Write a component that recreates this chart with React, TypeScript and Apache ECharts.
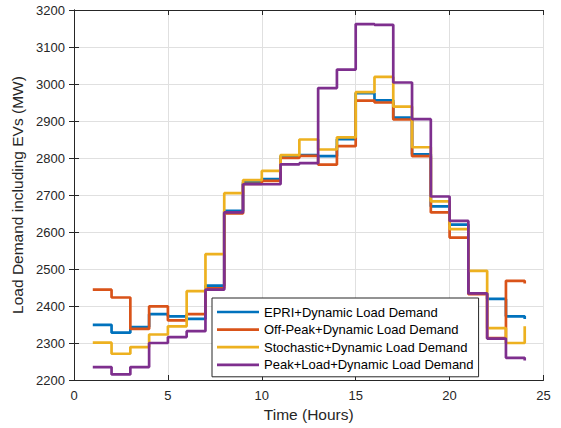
import React, { useEffect, useRef } from "react";
import * as echarts from "echarts";

const hours = [1, 2, 3, 4, 5, 6, 7, 8, 9, 10, 11, 12, 13, 14, 15, 16, 17, 18, 19, 20, 21, 22, 23, 24];

const epri = [2349, 2328, 2343, 2378, 2372, 2365, 2455, 2657, 2734, 2743, 2805, 2808, 2805, 2851, 2975, 2956, 2909, 2810, 2669, 2620, 2434, 2419, 2372, 2365];
const offPeak = [2444, 2423, 2338, 2399, 2361, 2378, 2448, 2650, 2730, 2738, 2800, 2806, 2782, 2832, 2955, 2950, 2904, 2805, 2653, 2585, 2432, 2313, 2468, 2461];
const stochastic = [2301, 2271, 2289, 2323, 2345, 2440, 2540, 2705, 2740, 2765, 2808, 2850, 2823, 2856, 2978, 3019, 2939, 2829, 2683, 2608, 2495, 2340, 2300, 2345];
const peak = [2235, 2215, 2235, 2300, 2316, 2332, 2444, 2653, 2729, 2729, 2783, 2786, 2989, 3039, 3162, 3160, 3004, 2905, 2696, 2630, 2434, 2312, 2260, 2253];

const seriesNames = [
  "EPRI+Dynamic Load Demand",
  "Off-Peak+Dynamic Load Demand",
  "Stochastic+Dynamic Load Demand",
  "Peak+Load+Dynamic Load Demand",
];
const seriesValues = [epri, offPeak, stochastic, peak];
const colors = ["#0072BD", "#D95319", "#EDB120", "#7E2F8E"];

const FONT = "'Liberation Sans', Arial, Helvetica, sans-serif";
const AXIS_COLOR = "#262626";

export default function App() {
  const ref = useRef<HTMLDivElement>(null);

  useEffect(() => {
    document.body.style.margin = "0";
    if (!ref.current) return;
    const chart = echarts.init(ref.current, null, { renderer: "svg" });

    const axisCommon = {
      axisLine: { show: true, lineStyle: { color: AXIS_COLOR, width: 1 } },
      axisTick: { show: true, inside: true, length: 5, lineStyle: { color: AXIS_COLOR } },
    };

    chart.setOption({
      animation: false,
      backgroundColor: "#ffffff",
      textStyle: { fontFamily: FONT },
      grid: { left: 74, right: 17.5, top: 10, bottom: 48, containLabel: false },
      xAxis: [
        {
          type: "value",
          min: 0,
          max: 25,
          interval: 5,
          position: "bottom",
          name: "Time (Hours)",
          nameLocation: "middle",
          nameGap: 26,
          nameTextStyle: { fontSize: 15.5, color: AXIS_COLOR, fontFamily: FONT },
          ...axisCommon,
          axisLabel: { fontSize: 13, color: AXIS_COLOR, margin: 9, fontFamily: FONT },
          splitLine: { show: true, lineStyle: { color: "#e0e0e0", width: 1 } },
        },
        {
          type: "value",
          min: 0,
          max: 25,
          interval: 5,
          position: "top",
          ...axisCommon,
          axisLabel: { show: false },
          splitLine: { show: false },
        },
      ],
      yAxis: [
        {
          type: "value",
          min: 2200,
          max: 3200,
          interval: 100,
          position: "left",
          name: "Load Demand including EVs (MW)",
          nameLocation: "middle",
          nameGap: 43,
          nameTextStyle: { fontSize: 15.5, color: AXIS_COLOR, fontFamily: FONT },
          ...axisCommon,
          axisLabel: {
            fontSize: 13,
            color: AXIS_COLOR,
            margin: 9,
            fontFamily: FONT,
            formatter: (v: number) => String(v),
          },
          splitLine: { show: true, lineStyle: { color: "#e0e0e0", width: 1 } },
        },
        {
          type: "value",
          min: 2200,
          max: 3200,
          interval: 100,
          position: "right",
          ...axisCommon,
          axisLabel: { show: false },
          splitLine: { show: false },
        },
      ],
      legend: {
        orient: "vertical",
        left: 212,
        top: 298,
        padding: [7, 5, 5, 5],
        icon: "rect",
        itemWidth: 42,
        itemHeight: 2.7,
        itemGap: 3.6,
        borderColor: AXIS_COLOR,
        borderWidth: 1,
        borderRadius: 0,
        backgroundColor: "#ffffff",
        textStyle: { fontSize: 13, color: "#000000", fontFamily: FONT, lineHeight: 14 },
        data: seriesNames,
      },
      series: seriesNames.map((name, i) => ({
        name,
        type: "line",
        step: "end",
        xAxisIndex: 0,
        yAxisIndex: 0,
        symbol: "none",
        showSymbol: false,
        data: hours.map((h, j) => [h, seriesValues[i][j]]),
        lineStyle: { color: colors[i], width: 2.7 },
        itemStyle: { color: colors[i] },
      })),
    });

    return () => chart.dispose();
  }, []);

  return (
    <div
      ref={ref}
      style={{ position: "fixed", left: 0, top: 0, width: 561, height: 428 }}
    />
  );
}
